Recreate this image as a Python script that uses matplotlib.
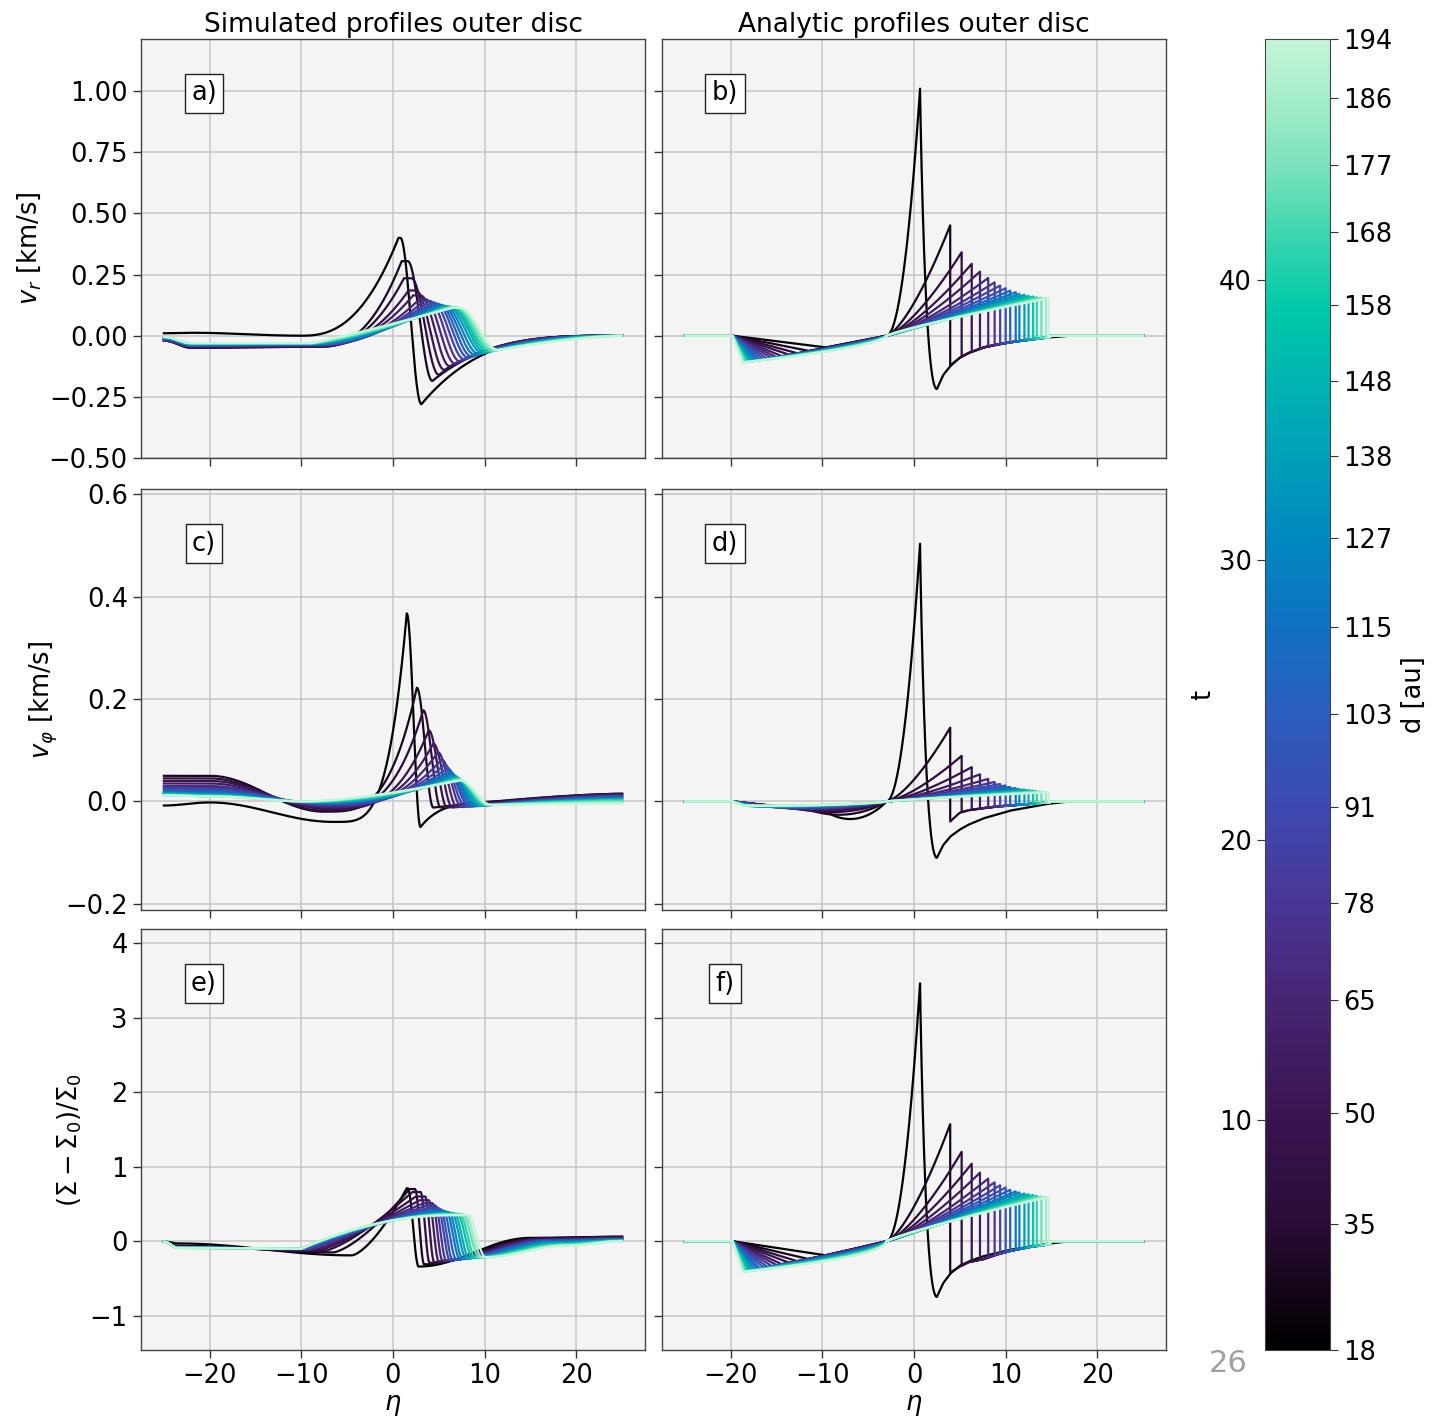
import numpy as np
import matplotlib
matplotlib.use("Agg")
import matplotlib.pyplot as plt
from matplotlib.colors import LinearSegmentedColormap, Normalize
from matplotlib.cm import ScalarMappable

# ------------------------------------------------------------------ data
t_snap = [1.8, 4.4, 7.0, 9.6, 12.2, 14.8, 17.4, 20.0, 22.6, 25.2, 27.8, 30.4,
          33.0, 35.6, 38.2, 40.8, 43.4, 46.0, 48.6]
t_range = [1.8, 48.6]
t_ticks = [10, 20, 30, 40]
d_tick_t = [1.8, 6.3, 10.25, 14.3, 17.75, 21.2, 24.5, 27.6, 30.8, 33.7, 36.4,
            39.1, 41.7, 44.1, 46.5, 48.6]
d_tick_labels = ['18', '35', '50', '65', '78', '91', '103', '115', '127', '138',
                 '148', '158', '168', '177', '186', '194']

cmap_t = [1.8, 6.3, 10.3, 14.3, 17.7, 21.2, 24.4, 27.6, 30.75, 33.7, 36.4, 39.0,
          41.7, 44.1, 46.5, 48.6]
cmap_hex = ['#000000', '#2a0c36', '#3a1552', '#462673', '#4a3595', '#3d49b0',
            '#2c5cbc', '#1170c2', '#0088c0', '#00a0b8', '#00b4b0', '#00c8a8',
            '#3cd6ae', '#7ae2bc', '#a4ecca', '#c4f5d8']

# ---- simulated v_r (panel a)
a_y0 = [0.01, -0.01, -0.02, -0.02, -0.02, -0.02, -0.015, -0.015, -0.01, -0.01,
        -0.01, -0.01, -0.008, -0.008, -0.006, -0.006, -0.005, -0.005, -0.005]
a_base = [0.012, -0.048, -0.05, -0.048, -0.045, -0.043, -0.041, -0.04, -0.039, -0.038,
          -0.037, -0.036, -0.035, -0.034, -0.033, -0.032, -0.031, -0.03, -0.03]
a_rise_x = [-10, -8, -8, -8, -8, -8, -8, -8, -8.5, -8.5, -8.5, -8.5, -9, -9, -9,
            -9, -9, -9, -9]
a_rise_y = [0.0, -0.045, -0.045, -0.043, -0.042, -0.04, -0.039, -0.038, -0.037,
            -0.036, -0.035, -0.034, -0.033, -0.033, -0.032, -0.032, -0.031, -0.031, -0.03]
a_peak_x = [0.6, 0.95, 1.2, 1.7, 2.2, 2.9, 3.4, 3.8, 4.2, 4.5, 4.8, 5.1, 5.3, 5.5,
            5.7, 5.9, 6.1, 6.3, 6.5]
a_peak_y = [0.40, 0.305, 0.235, 0.185, 0.165, 0.15, 0.142, 0.136, 0.131, 0.127,
            0.124, 0.121, 0.119, 0.118, 0.117, 0.116, 0.115, 0.115, 0.114]
a_drop_x = [0.8, 1.6, 2.0, 2.5, 3.0, 3.5, 4.0, 4.4, 4.8, 5.1, 5.4, 5.7, 6.0, 6.3,
            6.5, 6.7, 6.9, 7.1, 7.3]
a_trough_x = [3.1, 4.3, 5.0, 5.6, 6.2, 6.8, 7.3, 7.8, 8.2, 8.6, 9.0, 9.4, 9.8, 10.1,
              10.4, 10.7, 11.0, 11.3, 11.5]
a_trough_y = [-0.28, -0.185, -0.16, -0.14, -0.125, -0.115, -0.105, -0.097, -0.09,
              -0.085, -0.08, -0.076, -0.072, -0.069, -0.066, -0.064, -0.062, -0.06, -0.058]
a_end = [0.0] * 19

# ---- simulated v_phi (panel c)
c_y0 = [-0.008, 0.05, 0.045, 0.04, 0.035, 0.03, 0.028, 0.025, 0.022, 0.02, 0.018,
        0.017, 0.016, 0.015, 0.014, 0.013, 0.012, 0.012, 0.012]
c_y1 = [-0.002, 0.05, 0.045, 0.04, 0.035, 0.03, 0.027, 0.024, 0.021, 0.019, 0.017,
        0.015, 0.014, 0.013, 0.012, 0.011, 0.01, 0.01, 0.01]
c_dip_x = [-6.5, -7.5, -7.5, -7, -7, -7, -7, -7, -7, -7.5, -7.5, -8, -8, -8.5, -8.5,
           -9, -9, -9.5, -9.5]
c_dip_y = [-0.04, -0.02, -0.018, -0.015, -0.012, -0.01, -0.008, -0.006, -0.005,
           -0.004, -0.003, -0.002, -0.002, -0.001, -0.001, 0.0, 0.0, 0.0, 0.0]
c_peak_x = [1.5, 2.6, 3.3, 3.9, 4.4, 4.9, 5.3, 5.6, 5.9, 6.1, 6.3, 6.5, 6.7, 6.8,
            6.9, 7.0, 7.1, 7.2, 7.3]
c_peak_y = [0.367, 0.222, 0.178, 0.139, 0.113, 0.096, 0.082, 0.072, 0.065, 0.059,
            0.055, 0.052, 0.049, 0.047, 0.045, 0.044, 0.043, 0.042, 0.041]
c_trough_x = [3.0, 4.4, 5.2, 5.9, 6.5, 7.0, 7.5, 7.9, 8.3, 8.6, 8.9, 9.2, 9.5, 9.8,
              10.0, 10.2, 10.4, 10.6, 10.8]
c_trough_y = [-0.05, -0.012, -0.012, -0.012, -0.012, -0.011, -0.011, -0.01, -0.01,
              -0.01, -0.009, -0.009, -0.008, -0.008, -0.008, -0.007, -0.007, -0.007, -0.007]
c_end = [0.0, 0.015, 0.015, 0.014, 0.013, 0.012, 0.011, 0.01, 0.009, 0.008, 0.007,
         0.006, 0.005, 0.004, 0.003, 0.002, 0.0, -0.002, -0.004]

# ---- simulated surface density (panel e)
e_y1 = [-0.03, -0.06, -0.07, -0.075, -0.078, -0.08, -0.08, -0.082, -0.082, -0.084,
        -0.085, -0.086, -0.087, -0.088, -0.089, -0.09, -0.09, -0.09, -0.09]
e_dip_x = [-4.5, -6.5, -7.5, -8, -8.5, -9, -9, -9.5, -9.5, -10, -10, -10, -10, -10,
           -10, -10, -10, -10, -10]
e_dip_y = [-0.19, -0.15, -0.13, -0.12, -0.115, -0.11, -0.108, -0.106, -0.104, -0.102,
           -0.1, -0.1, -0.1, -0.1, -0.1, -0.1, -0.1, -0.1, -0.1]
e_peak_x = [1.5, 1.8, 2.1, 2.5, 2.9, 3.3, 3.6, 3.9, 4.2, 4.5, 4.8, 5.1, 5.3, 5.5,
            5.7, 5.9, 6.1, 6.3, 6.5]
e_peak_y = [0.71, 0.70, 0.66, 0.60, 0.55, 0.51, 0.48, 0.45, 0.43, 0.41, 0.40, 0.39,
            0.38, 0.37, 0.37, 0.36, 0.36, 0.35, 0.35]
e_drop_x = [1.6, 2.4, 3.0, 3.5, 3.9, 4.3, 4.6, 4.9, 5.2, 5.5, 5.8, 6.1, 6.4, 6.7,
            7.0, 7.3, 7.6, 7.9, 8.2]
e_trough_x = [2.8, 3.4, 4.0, 4.5, 5.0, 5.4, 5.8, 6.2, 6.5, 6.9, 7.3, 7.6, 8.0, 8.3,
              8.7, 9.0, 9.4, 9.7, 10.1]
e_trough_y = [-0.34, -0.31, -0.29, -0.28, -0.27, -0.26, -0.255, -0.25, -0.245, -0.24,
              -0.235, -0.23, -0.228, -0.225, -0.222, -0.22, -0.218, -0.216, -0.215]
e_mid_x = [15, 15.5, 16, 16, 16.5, 16.5, 17, 17, 17, 17.5, 17.5, 17.5, 18, 18, 18,
           18.5, 18.5, 19, 19]
e_mid_y = [0.045, 0.04, 0.035, 0.03, 0.025, 0.02, 0.015, 0.01, 0.005, 0.0, -0.005,
           -0.012, -0.02, -0.028, -0.035, -0.042, -0.05, -0.055, -0.06]
e_end = [0.06, 0.06, 0.055, 0.05, 0.045, 0.04, 0.035, 0.03, 0.027, 0.024, 0.02,
         0.017, 0.014, 0.011, 0.008, 0.006, 0.004, 0.002, 0.0]

# ---- analytic profiles (panels b, d, f)
an_shock_x = [0.66, 3.95, 5.2, 6.3, 7.2, 8.1, 8.8, 9.4, 10.0, 10.5, 11.1, 11.5,
              12.05, 12.5, 13.0, 13.4, 13.9, 14.4, 14.7]
an_left_x = [-9.6, -11.5, -12.7, -13.6, -14.4, -15.0, -15.5, -16.0, -16.4, -16.8,
             -17.1, -17.4, -17.7, -17.9, -18.1, -18.3, -18.45, -18.6, -18.7]
b_peak = [1.01, 0.451, 0.341, 0.294, 0.262, 0.236, 0.218, 0.205, 0.194, 0.184,
          0.178, 0.171, 0.167, 0.163, 0.160, 0.157, 0.155, 0.154, 0.153]
b_left = [-0.048, -0.062, -0.072, -0.078, -0.084, -0.088, -0.091, -0.094, -0.097,
          -0.099, -0.101, -0.103, -0.104, -0.105, -0.106, -0.107, -0.108, -0.109, -0.109]
b_bump = [0.0] * 19
d_peak = [0.503, 0.144, 0.089, 0.067, 0.053, 0.044, 0.038, 0.034, 0.031, 0.028,
          0.026, 0.024, 0.023, 0.022, 0.021, 0.020, 0.019, 0.0185, 0.018]
d_left = [-0.020, -0.016, -0.014, -0.013, -0.012, -0.0115, -0.011, -0.0105, -0.010,
          -0.010, -0.0095, -0.0095, -0.009, -0.009, -0.009, -0.0085, -0.0085, -0.008, -0.008]
d_bump = [-0.022, -0.016, -0.012, -0.010, -0.008, -0.007, -0.006, -0.005, -0.0045,
          -0.004, -0.0035, -0.003, -0.003, -0.0025, -0.0025, -0.002, -0.002, -0.002, -0.002]
f_peak = [3.46, 1.57, 1.20, 1.04, 0.92, 0.84, 0.79, 0.75, 0.72, 0.69, 0.67, 0.655,
          0.64, 0.63, 0.62, 0.61, 0.60, 0.597, 0.594]
f_left = [-0.19, -0.24, -0.27, -0.29, -0.31, -0.32, -0.335, -0.345, -0.355, -0.365,
          -0.37, -0.38, -0.385, -0.39, -0.395, -0.40, -0.405, -0.41, -0.41]
f_bump = [0.0] * 19

tail_dark_x = [2.5, 3.2, 4.0, 5.0, 6.0, 7.6, 10.5, 14.5, 17.0]
b_tail_dark = [-0.218, -0.16, -0.123, -0.09, -0.07, -0.048, -0.027, -0.008, 0.0]
d_tail_dark = [-0.110, -0.085, -0.068, -0.055, -0.045, -0.033, -0.018, -0.005, 0.0]
f_tail_dark = [-0.747, -0.56, -0.43, -0.33, -0.27, -0.20, -0.115, -0.035, 0.0]
tail_post_x = [3.9, 5.0, 6.0, 7.6, 9.0, 10.5, 12.5, 14.8, 15.0]
b_tail_post = [-0.123, -0.09, -0.07, -0.048, -0.036, -0.027, -0.016, -0.006, 0.0]
d_tail_post = [-0.040, -0.022, -0.017, -0.013, -0.010, -0.008, -0.005, -0.002, 0.0]
f_tail_post = [-0.425, -0.34, -0.28, -0.24, -0.18, -0.13, -0.08, -0.04, 0.0]

N = len(t_snap)

# ------------------------------------------------------------------ helpers
def cos_s(s):
    return 0.5 * (1 - np.cos(np.pi * s))


def gen_s(s, k):
    if k >= 0:
        return s ** (1 + k)
    return 1 - (1 - s) ** (1 - k)


def build(x, knots):
    y = np.full_like(x, knots[0][1], dtype=float)
    for j in range(1, len(knots)):
        x0, y0 = knots[j - 1][0], knots[j - 1][1]
        x1, y1, mode, k = knots[j]
        if x1 <= x0:
            continue
        m = (x >= x0) & (x <= x1)
        s = (x[m] - x0) / (x1 - x0)
        f = cos_s(s) if mode == 'c' else gen_s(s, k)
        y[m] = y0 + (y1 - y0) * f
    y[x > knots[-1][0]] = knots[-1][1]
    return y


eta = np.linspace(-25, 25, 1501)
frac = np.linspace(0, 1, N)


def sim_a(i):
    rk = 1.5 - 1.4 * frac[i]
    ck = -2.5 + 2.0 * frac[i]
    kn = [(-25, a_y0[i]), (-22, a_base[i], 'c', 0), (a_rise_x[i], a_rise_y[i], 'c', 0),
          (a_peak_x[i], a_peak_y[i], 'g', rk), (a_drop_x[i], a_peak_y[i], 'c', 0),
          (a_trough_x[i], a_trough_y[i], 'c', 0), (25, a_end[i], 'g', ck)]
    return build(eta, kn)


def sim_c(i):
    rk = 3.0 if i == 0 else 2.5 - 2.0 * frac[i]
    ck = -9.0 if i == 0 else -0.5
    kn = [(-25, c_y0[i]), (-20, c_y1[i], 'c', 0), (c_dip_x[i], c_dip_y[i], 'c', 0),
          (c_peak_x[i], c_peak_y[i], 'g', rk), (c_trough_x[i], c_trough_y[i], 'c', 0),
          (25, c_end[i], 'g', ck)]
    return build(eta, kn)


def sim_e(i):
    rk = 0.5 - 1.5 * frac[i]
    kn = [(-25, -0.005), (-23.5, e_y1[i], 'c', 0), (e_dip_x[i], e_dip_y[i], 'c', 0),
          (e_peak_x[i], e_peak_y[i], 'g', rk), (e_drop_x[i], e_peak_y[i], 'c', 0),
          (e_trough_x[i], e_trough_y[i], 'c', 0), (e_mid_x[i], e_mid_y[i], 'c', 0),
          (25, e_end[i], 'c', 0)]
    return build(eta, kn)


def analytic(i, peak, left, bump, tdark, tpost, pl0, pl1):
    xs = [-25.0, -19.8]
    ys = [0.0, 0.0]
    xl = an_left_x[i]
    pL = pl0 + (pl1 - pl0) * frac[i]
    xe = np.linspace(xl, -3, 150)
    s = (-3 - xe) / (-3 - xl)
    ye = left[i] * s ** pL + bump[i] * 4 * s * (1 - s)
    xs += list(xe)
    ys += list(ye)
    xr_pk = an_shock_x[i]
    if i == 0:
        xr = np.linspace(-3, xr_pk, 150)
        u = (xr + 3) / (xr_pk + 3)
        xs += list(xr)
        ys += list(peak[i] * u ** 2.0)
        ymin = tdark[0]
        x1 = np.linspace(xr_pk, tail_dark_x[0], 200)
        sd = (x1 - xr_pk) / (tail_dark_x[0] - xr_pk)
        xs += list(x1)
        ys += list(peak[i] + (ymin - peak[i]) * cos_s(sd ** 0.45))
        xt = np.linspace(tail_dark_x[0], tail_dark_x[-1], 150)
        xs += list(xt)
        ys += list(np.interp(xt, tail_dark_x, tdark))
    else:
        pR = 1.45 - 0.6 * (i - 1) / (N - 2)
        xr = np.linspace(-3, xr_pk, 150)
        u = (xr + 3) / (xr_pk + 3)
        xs += list(xr)
        ys += list(peak[i] * u ** pR)
        xt = np.linspace(xr_pk, tail_post_x[-1], 100)
        xs += list(xt)
        ys += list(np.interp(xt, tail_post_x, tpost))
    xs += [25.0]
    ys += [0.0]
    return np.array(xs), np.array(ys)


# ------------------------------------------------------------------ figure
cmap = LinearSegmentedColormap.from_list(
    'tcmap', [((t - t_range[0]) / (t_range[1] - t_range[0]), c) for t, c in zip(cmap_t, cmap_hex)])
norm = Normalize(t_range[0], t_range[1])
colors = [cmap(norm(t)) for t in t_snap]

plt.rcParams['font.family'] = ['DejaVu Sans']
FS = 18.5
fig = plt.figure(figsize=(14.34, 14.16), dpi=100)

W, H = 1434.0, 1416.0
col_l = [141, 662]
col_w = 504
rows = [(39, 458), (489, 910), (929, 1350)]
axes = []
for r, (top, bot) in enumerate(rows):
    row = []
    for c in range(2):
        ax = fig.add_axes([col_l[c] / W, 1 - bot / H, col_w / W, (bot - top) / H])
        row.append(ax)
    axes.append(row)

ylims = [(-0.5, 1.213), (-0.212, 0.61), (-1.46, 4.19)]
yticks = [[-0.5, -0.25, 0, 0.25, 0.5, 0.75, 1.0], [-0.2, 0.0, 0.2, 0.4, 0.6],
          [-1, 0, 1, 2, 3, 4]]
ylabels = [r'$v_r$ [km/s]', r'$v_\varphi$ [km/s]', r'$(\Sigma - \Sigma_0)/\Sigma_0$']
letters = [['a)', 'b)'], ['c)', 'd)'], ['e)', 'f)']]

lw = 1.6
for i in range(N):
    axes[0][0].plot(eta, sim_a(i), color=colors[i], lw=lw)
    axes[1][0].plot(eta, sim_c(i), color=colors[i], lw=lw)
    axes[2][0].plot(eta, sim_e(i), color=colors[i], lw=lw)
    x, y = analytic(i, b_peak, b_left, b_bump, b_tail_dark, b_tail_post, 1.0, 0.6)
    axes[0][1].plot(x, y, color=colors[i], lw=lw)
    x, y = analytic(i, d_peak, d_left, d_bump, d_tail_dark, d_tail_post, 0.8, 0.6)
    axes[1][1].plot(x, y, color=colors[i], lw=lw)
    x, y = analytic(i, f_peak, f_left, f_bump, f_tail_dark, f_tail_post, 1.0, 0.5)
    axes[2][1].plot(x, y, color=colors[i], lw=lw)

for r in range(3):
    for c in range(2):
        ax = axes[r][c]
        ax.set_facecolor('#f4f4f4')
        ax.set_xlim(-27.5, 27.5)
        ax.set_ylim(*ylims[r])
        ax.set_xticks([-20, -10, 0, 10, 20])
        ax.set_yticks(yticks[r])
        ax.grid(True, color='#c6c6c6', lw=1.1)
        ax.set_axisbelow(True)
        ax.tick_params(labelsize=FS, length=6, width=1.0, color='#333333')
        for sp in ax.spines.values():
            sp.set_color('#444444')
            sp.set_linewidth(1.0)
        if c == 1:
            ax.tick_params(labelleft=False)
        else:
            ax.set_ylabel(ylabels[r], fontsize=FS)
        if r < 2:
            ax.tick_params(labelbottom=False)
        else:
            ax.set_xlabel(r'$\eta$', fontsize=FS, labelpad=2)
        ax.text(0.125, 0.87, letters[r][c], transform=ax.transAxes, fontsize=FS,
                ha='center', va='center',
                bbox=dict(boxstyle='square,pad=0.25', fc='white', ec='#222222', lw=1.0))

axes[0][0].set_title('Simulated profiles outer disc', fontsize=19, pad=5)
axes[0][1].set_title('Analytic profiles outer disc', fontsize=19, pad=5)

# ------------------------------------------------------------------ colorbar
cb_rect = [1265 / W, 1 - 1350 / H, 65 / W, (1350 - 39) / H]
cax = fig.add_axes(cb_rect)
sm = ScalarMappable(norm=norm, cmap=cmap)
cb = fig.colorbar(sm, cax=cax)
cb.outline.set_edgecolor('#444444')
cb.set_ticks(t_ticks)
cax.yaxis.set_ticks_position('left')
cax.yaxis.set_label_position('left')
cax.tick_params(labelsize=FS, length=6, color='#333333')
cax.set_ylabel('t', fontsize=FS, labelpad=2)

cax2 = fig.add_axes(cb_rect, frameon=False)
cax2.patch.set_alpha(0)
cax2.set_xticks([])
cax2.set_ylim(*t_range)
cax2.yaxis.tick_right()
cax2.yaxis.set_label_position('right')
cax2.set_yticks(d_tick_t)
cax2.set_yticklabels(d_tick_labels)
cax2.tick_params(labelsize=FS, length=6, color='#333333')
cax2.set_ylabel('d [au]', fontsize=FS, labelpad=6)

fig.text(1228 / W, 1 - 1363 / H, '26', fontsize=22, color='#a0a0a0',
         ha='center', va='center')

fig.savefig('out.png', dpi=100)
